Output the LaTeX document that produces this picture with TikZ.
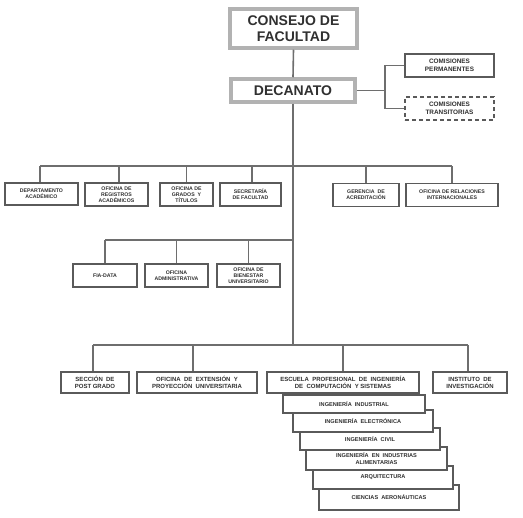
\documentclass[tikz,border=0pt]{standalone}
\usepackage{fontspec}
\setmainfont{Liberation Sans}
\definecolor{linegray}{HTML}{6E6E6E}
\definecolor{boxgray}{HTML}{5A5A5A}
\definecolor{txt}{HTML}{303030}
\begin{document}
\begin{tikzpicture}[x=1pt,y=-1pt,
  conn/.style={draw=linegray,line width=1.6pt},
  sbox/.style={draw=boxgray,line width=1.2pt,fill=white,inner sep=0pt,align=center,text=txt,
    font=\fontsize{5.2}{6.2}\selectfont\bfseries},
  mbox/.style={sbox,font=\fontsize{6}{7}\selectfont\bfseries},
  cbox/.style={sbox,font=\fontsize{5.6}{6.6}\selectfont\bfseries},
  bigbox/.style={draw=gray!60,line width=3.5pt,fill=white,inner sep=0pt,align=center,text=txt,
    font=\fontsize{14}{15.5}\selectfont\bfseries},
  combox/.style={sbox,font=\fontsize{6.4}{7.4}\selectfont\bfseries}]
\useasboundingbox (0,0) rectangle (523,518);
% top
\node[bigbox,minimum width=127pt,minimum height=39pt] (consejo) at (293.5,28.5) {CONSEJO DE\\FACULTAD};
\node[bigbox,minimum width=124pt,minimum height=23pt] (decanato) at (293,90.5) {DECANATO};
\node[combox,minimum width=89pt,minimum height=23pt] (perm) at (449.5,65.5) {COMISIONES\\PERMANENTES};
\node[combox,dashed,dash pattern=on 4pt off 3pt,minimum width=89pt,minimum height=23pt] (trans) at (449.5,108.5) {COMISIONES\\TRANSITORIAS};
% level 2
\node[sbox,minimum width=73pt,minimum height=22pt] (dep) at (41.5,194) {DEPARTAMENTO\\ACADÉMICO};
\node[sbox,minimum width=63pt,minimum height=23pt] (reg) at (116.5,194.5) {OFICINA DE\\REGISTROS\\ACADÉMICOS};
\node[sbox,minimum width=53pt,minimum height=23pt] (grados) at (186.5,194.5) {OFICINA DE\\GRADOS \ Y\\TÍTULOS};
\node[sbox,minimum width=61pt,minimum height=23pt] (secr) at (250.5,194.5) {SECRETARÍA\\DE FACULTAD};
\node[sbox,minimum width=66pt,minimum height=23pt] (geren) at (366,195) {GERENCIA \ DE\\ACREDITACIÓN};
\node[sbox,minimum width=92pt,minimum height=23pt] (ori) at (452,195) {OFICINA DE RELACIONES\\INTERNACIONALES};
% level 3
\node[sbox,minimum width=64pt,minimum height=23pt] (fia) at (105,275.5) {FIA-DATA};
\node[sbox,minimum width=63pt,minimum height=23pt] (adm) at (176.5,275.5) {OFICINA\\ADMINISTRATIVA};
\node[sbox,minimum width=63pt,minimum height=23pt] (bien) at (248.5,275.5) {OFICINA DE\\BIENESTAR\\UNIVERSITARIO};
% cascade (drawn from last to first)
\node[cbox,minimum width=140pt,minimum height=25pt] (aero) at (389,497.5) {CIENCIAS \ AERONÁUTICAS};
\node[cbox,minimum width=140pt,minimum height=23pt] (arq) at (383,477.5) {ARQUITECTURA};
\node[cbox,minimum width=141pt,minimum height=23pt] (alim) at (376.5,458.5) {INGENIERÍA \ EN \ INDUSTRIAS\\ALIMENTARIAS};
\node[cbox,minimum width=140pt,minimum height=22pt] (civil) at (370,439) {INGENIERÍA \ CIVIL};
\node[cbox,minimum width=140pt,minimum height=22pt] (elec) at (363,421) {INGENIERÍA \ ELECTRÓNICA};
\node[cbox,minimum width=142pt,minimum height=18pt] (indu) at (354,404) {INGENIERÍA \ INDUSTRIAL};
% level 4
\node[mbox,minimum width=68pt,minimum height=21pt] (post) at (95,382.5) {SECCIÓN \ DE\\POST GRADO};
\node[mbox,minimum width=120pt,minimum height=21pt] (ext) at (197,382.5) {OFICINA \ DE \ EXTENSIÓN \ Y\\PROYECCIÓN \ UNIVERSITARIA};
\node[mbox,minimum width=152pt,minimum height=21pt] (esc) at (343,382.5) {ESCUELA \ PROFESIONAL \ DE \ INGENIERÍA\\DE \ COMPUTACIÓN \ Y SISTEMAS};
\node[mbox,minimum width=74pt,minimum height=21pt] (inst) at (470,382.5) {INSTITUTO \ DE\\INVESTIGACIÓN};
% junction coordinates
\coordinate (cj) at (385,90.5);
\coordinate (b2l) at (40,166);
\coordinate (b2r) at (452,166);
\coordinate (b3l) at (105,240);
\coordinate (b3r) at (293,240);
\coordinate (b4l) at (93,345);
\coordinate (b4r) at (468,345);
\coordinate (b4m) at (293,345);
% connectors
\draw[conn] (consejo.south) -- (decanato.north);
\draw[conn] (decanato.south) -- (b4m);
\draw[conn] (decanato.east) -- (cj);
\draw[conn] (perm.west) -| (cj);
\draw[conn] (trans.west) -| (cj);
\draw[conn] (b2l) -- (b2r);
\draw[conn] (b3l) -- (b3r);
\draw[conn] (b4l) -- (b4r);
\draw[conn] (b2l) -- (b2l |- dep.north);
\draw[conn] (reg.north -| 119,0) -- (119,166);
\draw[conn] (grados.north) -- (grados.north |- b2l);
\draw[conn] (secr.north -| 252,0) -- (252,166);
\draw[conn] (geren.north) -- (geren.north |- b2l);
\draw[conn] (ori.north) -- (ori.north |- b2l);
\draw[conn] (fia.north) -- (fia.north |- b3l);
\draw[conn] (adm.north) -- (adm.north |- b3l);
\draw[conn] (bien.north) -- (bien.north |- b3l);
\draw[conn] (post.north -| b4l) -- (b4l);
\draw[conn] (ext.north -| 193,0) -- (193,345);
\draw[conn] (esc.north) -- (esc.north |- b4l);
\draw[conn] (inst.north -| b4r) -- (b4r);
\end{tikzpicture}
\end{document}
